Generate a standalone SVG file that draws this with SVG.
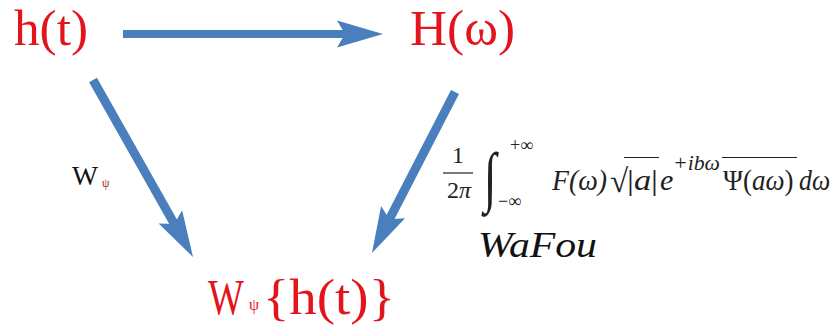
<svg xmlns="http://www.w3.org/2000/svg" width="834" height="331" viewBox="0 0 834 331">
<style>
.serif{font-family:"Liberation Serif","Tinos","Times New Roman","DejaVu Serif",serif}
.node{fill:#e3141b}
.lbl{fill:#111}
.math{fill:#222}
.conn{stroke:#4a7fbd;stroke-width:9;fill:none;marker-end:url(#ah)}
.bar{stroke:#222;stroke-width:1.2}
</style>
<defs>
<marker id="ah" markerUnits="userSpaceOnUse" orient="auto" refX="8" refY="0" markerWidth="60" markerHeight="40" overflow="visible">
<path d="M0,-13.5 L46,0 L0,13.5 L8,0 z" fill="#4a7fbd"/>
</marker>
</defs>
<rect width="834" height="331" fill="#fff"/>
<g id="connectors">
<line class="conn" x1="123" y1="34" x2="345" y2="34" style="stroke-width:8"/>
<line class="conn" x1="93" y1="80" x2="174.3" y2="223.9"/>
<line class="conn" x1="455" y1="92" x2="389.4" y2="219.2"/>
</g>
<g id="node-ht"><text class="serif node" x="14" y="45" font-size="50" textLength="74" lengthAdjust="spacingAndGlyphs">h(t)</text></g>
<g id="node-Hw"><text class="serif node" x="410" y="45" font-size="50" textLength="105" lengthAdjust="spacingAndGlyphs">H(ω)</text></g>
<g id="node-Wh"><text class="serif node" transform="translate(208,314) scale(0.76,1)" font-size="50">W</text><text class="serif node" x="249" y="310" font-size="16">ψ</text><text class="serif node" x="263" y="314" font-size="50" textLength="132" lengthAdjust="spacingAndGlyphs">{h(t)}</text></g>
<g id="label-W"><text class="serif lbl" x="72" y="185" font-size="28" textLength="26" lengthAdjust="spacingAndGlyphs">W</text><text class="serif" x="102" y="187" font-size="12" fill="#a0302a">ψ</text></g>
<g id="label-formula" class="serif math">
<text x="458" y="163" font-size="24" text-anchor="middle">1</text>
<line class="bar" x1="443" y1="173" x2="473" y2="173"/>
<text x="459" y="198" font-size="24" text-anchor="middle">2<tspan font-style="italic">π</tspan></text>
<text transform="translate(484,199) scale(1,1.45)" font-size="46">∫</text>
<text x="510" y="151" font-size="18">+∞</text>
<text x="498" y="207" font-size="18">−∞</text>
<text x="552" y="190" font-size="30" font-style="italic" textLength="55" lengthAdjust="spacingAndGlyphs">F(ω)</text>
<text x="610" y="192" font-size="33">√</text>
<line class="bar" x1="624" y1="157.5" x2="659" y2="157.5"/>
<text x="627" y="190" font-size="30" textLength="31" lengthAdjust="spacingAndGlyphs">|<tspan font-style="italic">a</tspan>|</text>
<text x="660" y="190" font-size="30" font-style="italic">e</text>
<text x="673" y="170" font-size="20" font-style="italic" textLength="47" lengthAdjust="spacingAndGlyphs">+ibω</text>
<line class="bar" x1="722" y1="157.5" x2="797" y2="157.5"/>
<text transform="translate(723,190) scale(0.9,1)" font-size="30">Ψ(<tspan font-style="italic">aω</tspan>)</text>
<text transform="translate(799,190) scale(0.86,1)" font-size="30" font-style="italic">dω</text>
</g>
<g id="label-WaFou"><text class="serif" x="478" y="257" font-size="36" font-style="italic" fill="#111" textLength="119" lengthAdjust="spacingAndGlyphs">WaFou</text></g>
</svg>
